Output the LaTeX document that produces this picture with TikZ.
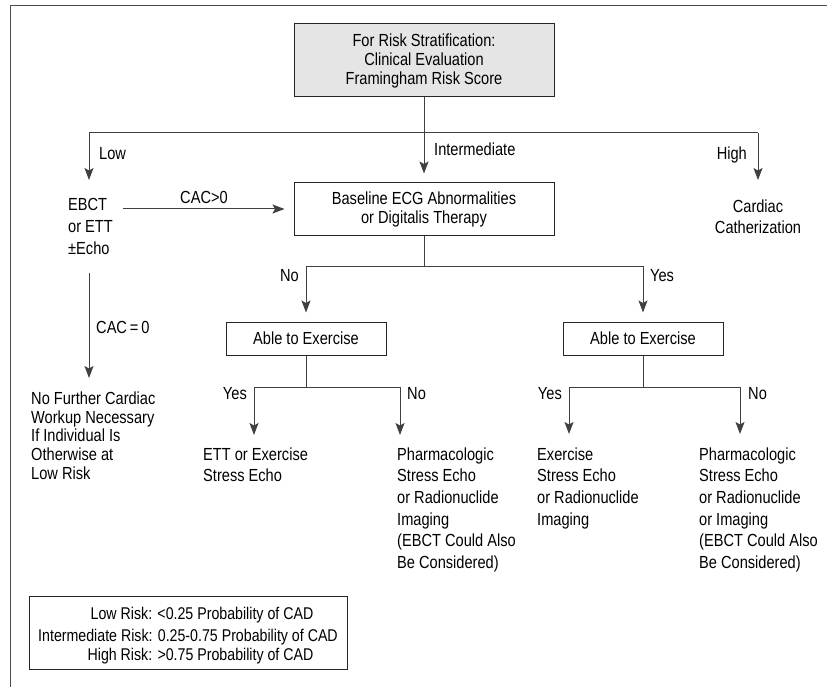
\documentclass[tikz,border=0pt]{standalone}
\usepackage{fontspec}
\setmainfont{Liberation Sans}[FakeStretch=0.835]
\usetikzlibrary{arrows.meta}
\begin{document}
\begin{tikzpicture}[x=1pt,y=-1pt,
  conn/.style={draw=black!75, line width=1pt},
  arr/.style={conn, -{Stealth[length=12pt,width=9pt,inset=2.5pt]}},
  boxnode/.style={draw=black!85, line width=1pt, inner sep=0pt, align=center, font=\fontsize{17.5}{19}\selectfont},
  txt/.style={inner sep=0pt, align=left, anchor=north west, font=\fontsize{17.5}{21.6}\selectfont},
  lbl/.style={inner sep=0pt, font=\fontsize{17.5}{20}\selectfont}]
\useasboundingbox (0,0) rectangle (827,687);
% frame
\draw[draw=black!70, line width=1.5pt] (10.5,687) -- (10.5,5.5) -- (827,5.5);

% boxes
\node[boxnode, fill=black!10, minimum width=260pt, minimum height=73pt] (top) at (424,60.5) {For Risk Stratification:\\Clinical Evaluation\\Framingham Risk Score};
\node[boxnode, minimum width=260pt, minimum height=52pt] (base) at (424,209) {Baseline ECG Abnormalities\\or Digitalis Therapy};
\node[boxnode, minimum width=160pt, minimum height=33pt] (able1) at (306,338.5) {Able to Exercise};
\node[boxnode, minimum width=160pt, minimum height=33pt] (able2) at (643,338.5) {Able to Exercise};

% text blocks
\node[txt] (ebct) at (68,198.5) {EBCT\\or ETT\\±Echo};
\node[txt, anchor=north, align=center] (cath) at (758,199.5) {Cardiac\\Catherization};
\node[txt, font=\fontsize{17.5}{18.8}\selectfont] (nofur) at (31,391.5) {No Further Cardiac\\Workup Necessary\\If Individual Is\\Otherwise at\\Low Risk};
\node[txt] (ett) at (203,447.5) {ETT or Exercise\\Stress Echo};
\node[txt] (pharm1) at (397,447.5) {Pharmacologic\\Stress Echo\\or Radionuclide\\Imaging\\(EBCT Could Also\\Be Considered)};
\node[txt] (exer) at (537,447.5) {Exercise\\Stress Echo\\or Radionuclide\\Imaging};
\node[txt] (pharm2) at (699,447.5) {Pharmacologic\\Stress Echo\\or Radionuclide\\or Imaging\\(EBCT Could Also\\Be Considered)};

% legend
\node[draw=black!85, line width=1pt, minimum width=318pt, minimum height=73pt, inner sep=0pt] (legend) at (188,632.5) {};
\node[lbl, anchor=base, font=\fontsize{17}{20}\selectfont] (leg1) at (202,619.3) {Low Risk: <0.25 Probability of CAD};
\node[lbl, anchor=base, font=\fontsize{17}{20}\selectfont] (leg2) at (188,641.3) {Intermediate Risk: 0.25-0.75 Probability of CAD};
\node[lbl, anchor=base, font=\fontsize{17}{20}\selectfont] (leg3) at (200.5,660.3) {High Risk: >0.75 Probability of CAD};

% junction coordinates
\coordinate (j0) at (424,133);
\coordinate (jl) at (89,133);
\coordinate (jr) at (758,133);
\coordinate (tlow) at (89,180);
\coordinate (thigh) at (758,180);
\coordinate (cacs) at (123,209);
\coordinate (j1) at (424,266);
\coordinate (jno) at (306,266);
\coordinate (jyes) at (643,266);
\coordinate (e0) at (89,273);
\coordinate (e1) at (89,378);
\coordinate (k1) at (306,387);
\coordinate (k1y) at (254,387);
\coordinate (k1n) at (400,387);
\coordinate (t1y) at (254,435);
\coordinate (t1n) at (400,435);
\coordinate (k2) at (643,387);
\coordinate (k2y) at (569,387);
\coordinate (k2n) at (740,387);
\coordinate (t2y) at (569,434);
\coordinate (t2n) at (740,434);

% connectors
\draw[conn] (top.south) -- (j0);
\draw[conn] (jl) -- (jr);
\draw[arr] (jl) -- (tlow);
\draw[arr, shorten >=9pt] (j0) -- (base.north);
\draw[arr] (jr) -- (thigh);
\draw[arr, shorten >=9pt] (cacs) -- (base.west);
\draw[arr] (e0) -- (e1);
\draw[conn] (base.south) -- (j1);
\draw[conn] (jno) -- (jyes);
\draw[arr, shorten >=9pt] (jno) -- (able1.north);
\draw[arr, shorten >=9pt] (jyes) -- (able2.north);
\draw[conn] (able1.south) -- (k1);
\draw[conn] (k1y) -- (k1n);
\draw[arr] (k1y) -- (t1y);
\draw[arr] (k1n) -- (t1n);
\draw[conn] (able2.south) -- (k2);
\draw[conn] (k2y) -- (k2n);
\draw[arr] (k2y) -- (t2y);
\draw[arr] (k2n) -- (t2n);

% labels
\node[lbl, anchor=base west] (llow) at (99,159.3) {Low};
\node[lbl, anchor=base west] (lint) at (434,155.3) {Intermediate};
\node[lbl, anchor=base east] (lhigh) at (747,159.3) {High};
\node[lbl, anchor=base] (lcacg) at (204,203.3) {CAC>0};
\node[lbl, anchor=base west] (lcace) at (96,333.3) {CAC\,=\,0};
\node[lbl, anchor=base east] (lno0) at (299,281.3) {No};
\node[lbl, anchor=base west] (lyes0) at (650,281.3) {Yes};
\node[lbl, anchor=base east] (lyes1) at (247,399.3) {Yes};
\node[lbl, anchor=base west] (lno1) at (407,399.3) {No};
\node[lbl, anchor=base east] (lyes2) at (562,399.3) {Yes};
\node[lbl, anchor=base west] (lno2) at (748,399.3) {No};
\end{tikzpicture}
\end{document}
